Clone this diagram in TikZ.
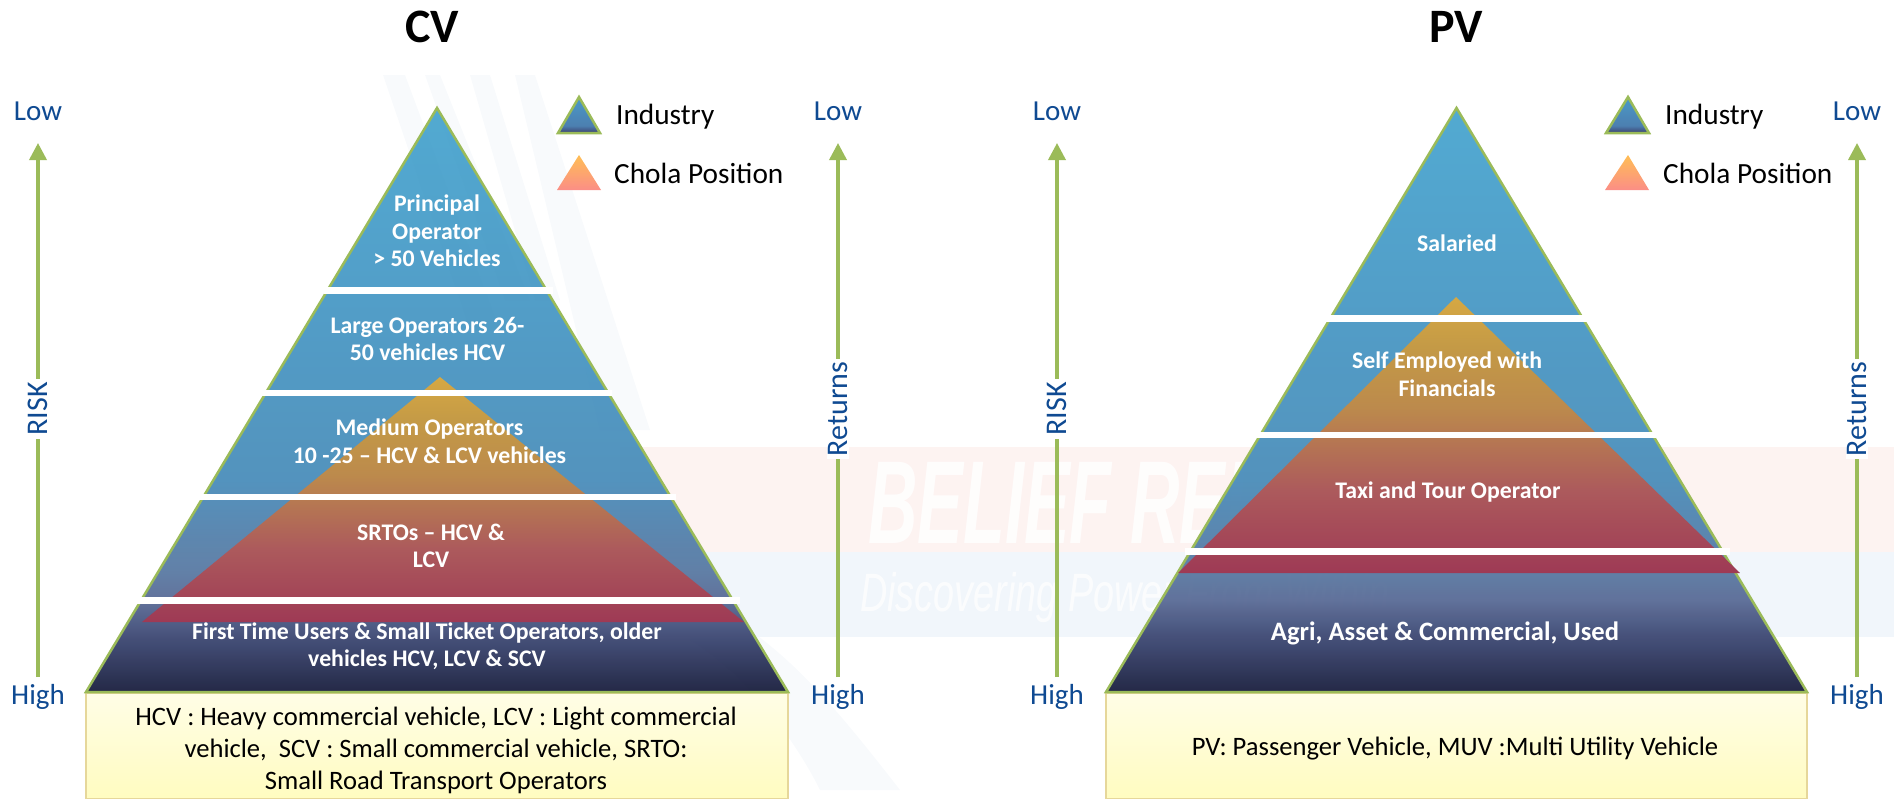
\documentclass[tikz,border=0pt]{standalone}
\usepackage{fontspec}
\setmainfont{Carlito}
\newfontfamily\wmfont{Liberation Sans}
\usetikzlibrary{arrows.meta}
\definecolor{arrowgreen}{HTML}{9BBB59}
\definecolor{labelblue}{HTML}{0F4A92}
\definecolor{boxedge}{HTML}{E6D79A}
\definecolor{pyrA}{HTML}{181D3C}
\definecolor{pyrB}{HTML}{3A4570}
\definecolor{pyrC}{HTML}{5A6B96}
\definecolor{pyrD}{HTML}{5A79A2}
\definecolor{pyrE}{HTML}{4A8DBA}
\definecolor{pyrF}{HTML}{4999C5}
\definecolor{pyrG}{HTML}{49A5CF}
\pgfdeclareverticalshading{pyrshade}{100bp}{color(0bp)=(pyrA);color(25bp)=(pyrA);color(29.5bp)=(pyrB);color(32.9bp)=(pyrC);color(35.2bp)=(pyrD);color(43.2bp)=(pyrE);color(58.6bp)=(pyrF);color(75bp)=(pyrG);color(100bp)=(pyrG)}
\definecolor{cholaA}{HTML}{9E3A55}
\definecolor{cholaB}{HTML}{AC5A5C}
\definecolor{cholaC}{HTML}{BC8A4C}
\definecolor{cholaD}{HTML}{C49A46}
\definecolor{cholaE}{HTML}{D6A843}
\pgfdeclareverticalshading{cholashade}{100bp}{color(0bp)=(cholaA);color(25bp)=(cholaA);color(40bp)=(cholaB);color(55bp)=(cholaC);color(66bp)=(cholaD);color(75bp)=(cholaE);color(100bp)=(cholaE)}
\definecolor{legA}{HTML}{3C3F6C}
\definecolor{legB}{HTML}{4C7FB0}
\definecolor{legC}{HTML}{4A9AC8}
\pgfdeclareverticalshading{legshade}{100bp}{color(0bp)=(legA);color(25bp)=(legA);color(35bp)=(legB);color(75bp)=(legC);color(100bp)=(legC)}
\definecolor{legorangetop}{HTML}{FFBE55}
\definecolor{legorangebot}{HTML}{FB8E86}
\definecolor{boxtop}{HTML}{FFFDE6}
\definecolor{boxbot}{HTML}{FFFCC0}
\definecolor{bandred}{HTML}{FDF3F1}
\definecolor{bandblue}{HTML}{F1F6FB}
\definecolor{raypale}{HTML}{F8FAFC}
\tikzset{
  x=1pt,y=-1pt,
  pyramid/.style={draw=arrowgreen,line width=2.5pt,line join=miter,shading=pyrshade,fill opacity=.95},
  chola/.style={shading=cholashade},
  sepbar/.style={fill=white,draw=none},
  legendind/.style={draw=arrowgreen,line width=2.5pt,shading=legshade},
  legendcho/.style={top color=legorangetop,bottom color=legorangebot},
  infobox/.style={draw=boxedge,line width=2pt,top color=boxtop,bottom color=boxbot},
  axisline/.style={draw=arrowgreen,line width=3.5pt,-{Triangle[width=17pt,length=17pt]}},
  axisword/.style={text=labelblue,font=\fontsize{29}{32}\selectfont,inner sep=0pt},
  axisrot/.style={text=labelblue,font=\fontsize{30}{32}\selectfont,rotate=90,fill=white,inner xsep=3pt,inner ysep=1pt},
  title/.style={font=\fontsize{48}{52}\bfseries\selectfont,inner sep=0pt},
  leglabel/.style={anchor=west,font=\fontsize{29.3}{32}\selectfont,inner sep=0pt},
  tier/.style={text=white,align=center,inner sep=0pt,font=\fontsize{23.8}{27.5}\bfseries\selectfont},
  boxtext/.style={align=center,inner sep=0pt,font=\fontsize{26.6}{32}\selectfont},
  ray/.style={fill=raypale,draw=none}
}
\begin{document}
\begin{tikzpicture}
\useasboundingbox (0,0) rectangle (1894,798);
% watermark
\fill[ray] (383,75) -- (405,75) -- (500,330) -- (470,330) -- cycle;
\fill[ray] (425,75) -- (440,75) -- (530,300) -- (505,300) -- cycle;
\fill[ray] (470,75) -- (490,75) -- (560,300) -- (535,300) -- cycle;
\fill[ray] (515,75) -- (535,75) -- (650,430) -- (600,430) -- cycle;
\fill[ray] (700,600) .. controls (780,640) and (830,700) .. (900,790) -- (820,790) .. controls (790,730) and (740,670) .. (690,640) -- cycle;
\fill[bandred] (620,447) rectangle (1894,552);
\fill[bandblue] (620,552) rectangle (1894,637);
\node[text=white,anchor=west,inner sep=0pt,xscale=.58,text opacity=.85] (wma) at (868,503) {\wmfont\fontsize{118}{120}\bfseries\itshape\selectfont BELIEF REL};
\node[text=white,anchor=west,inner sep=0pt,xscale=.7,text opacity=.75] (wmb) at (860,598) {\wmfont\fontsize{54}{56}\itshape\selectfont Discovering Power From Within};
% titles
\node[title] (tcv) at (432,27) {CV};
\node[title] (tpv) at (1456,27) {PV};
% info boxes
\path[infobox] (86,693) rectangle (788,799);
\path[infobox] (1106,693) rectangle (1807,799);
\node[boxtext] (bcv) at (436,750) {HCV : Heavy commercial vehicle, LCV : Light commercial\\vehicle,\ \ SCV : Small commercial vehicle, SRTO:\\Small Road Transport Operators};
\node[boxtext] (bpv) at (1455,749) {PV: Passenger Vehicle, MUV :Multi Utility Vehicle};
% pyramids
\path[pyramid] (437,108) -- (788,692) -- (86,692) -- cycle;
\path[pyramid] (1456.5,108) -- (1807,692) -- (1106,692) -- cycle;
\path[chola] (440,377) -- (744,622) -- (142,622) -- cycle;
\path[chola] (1456,297) -- (1740,573) -- (1178,573) -- cycle;
% bars
\fill[sepbar] (324,287) rectangle (553,293.5);
\fill[sepbar] (262,389.5) rectangle (612,396);
\fill[sepbar] (199,493.5) rectangle (676,500);
\fill[sepbar] (137,597) rectangle (740,604);
\fill[sepbar] (1325,315) rectangle (1587,322);
\fill[sepbar] (1256,432) rectangle (1656,438);
\fill[sepbar] (1185,548) rectangle (1730,554.5);
% tier labels
\node[tier] (c1) at (437,231) {Principal\\Operator\\> 50 Vehicles};
\node[tier] (c2) at (427.5,339) {Large Operators 26-\\50 vehicles HCV};
\node[tier] (c3) at (429.5,441) {Medium Operators\\10 -25 – HCV \& LCV vehicles};
\node[tier] (c4) at (431,546) {SRTOs – HCV \&\\LCV};
\node[tier] (c5) at (427,646) {First Time Users \& Small Ticket Operators, older\\vehicles HCV, LCV \& SCV};
\node[tier] (p1) at (1457,243) {Salaried};
\node[tier] (p2) at (1447,374) {Self Employed with\\Financials};
\node[tier] (p3) at (1448,492) {Taxi and Tour Operator};
\node[tier,font=\fontsize{26.6}{30}\bfseries\selectfont] (p4) at (1445,633) {Agri, Asset \& Commercial, Used};
% legends
\path[legendind] (579,97) -- (600,133) -- (558,133) -- cycle;
\path[legendcho] (579,155) -- (601,190) -- (557,190) -- cycle;
\path[legendind] (1628,97) -- (1649,133) -- (1606,133) -- cycle;
\path[legendcho] (1628,155) -- (1649,190) -- (1605,190) -- cycle;
\node[leglabel] (l1) at (616,117) {Industry};
\node[leglabel] (l2) at (614,173) {Chola Position};
\node[leglabel] (l3) at (1665,117) {Industry};
\node[leglabel] (l4) at (1663,173) {Chola Position};
% axes
\foreach \n/\x/\w in {a/38/RISK,b/838/Returns,c/1057/RISK,d/1857/Returns}{
  \coordinate (\n bot) at (\x,677);
  \coordinate (\n top) at (\x,143);
  \draw[axisline] (\n bot) -- (\n top);
  \node[axisrot] (\n word) at (\x,409) {\w};
  \node[axisword] (\n low) at (\x,111) {Low};
  \node[axisword] (\n high) at (\x,697) {High};
}
\end{tikzpicture}
\end{document}
